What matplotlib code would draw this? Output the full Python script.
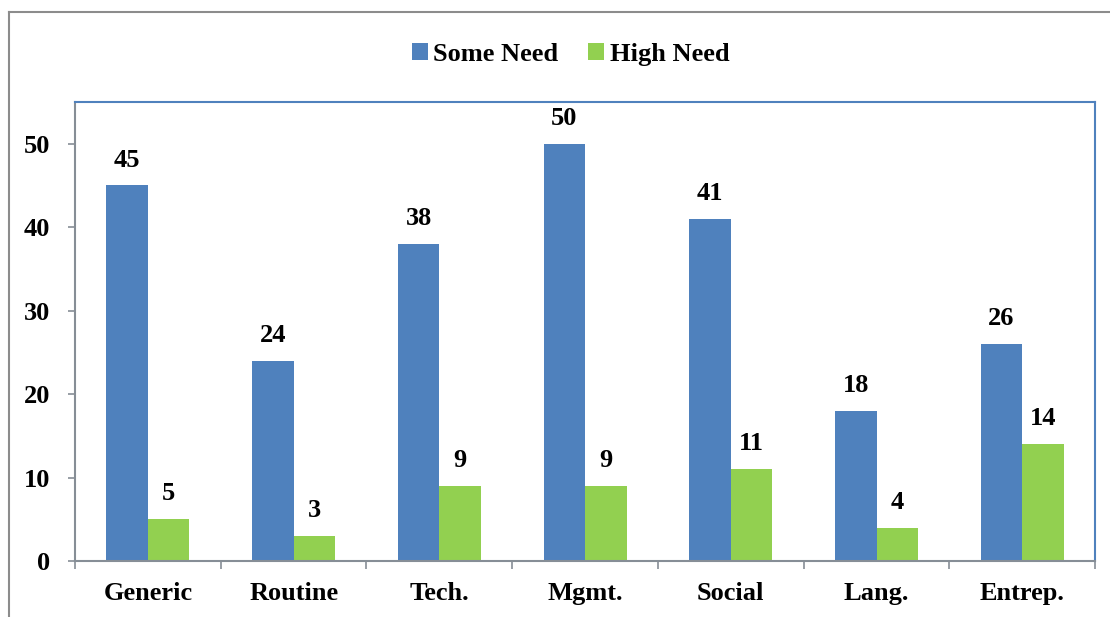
import numpy as np
import matplotlib.pyplot as plt
from matplotlib.lines import Line2D
from matplotlib.ticker import FixedLocator

categories = ["Generic", "Routine", "Tech.", "Mgmt.", "Social", "Lang.", "Entrep."]
some_need = [45, 24, 38, 50, 41, 18, 26]
high_need = [5, 3, 9, 9, 11, 4, 14]

blue = "#4F81BD"
green = "#92D050"
grey = "#868E96"

plt.rcParams["font.family"] = ["Liberation Serif", "DejaVu Serif"]
plt.rcParams["font.weight"] = "bold"

fig = plt.figure(figsize=(11.1, 6.17), dpi=100)
ax = fig.add_axes([0.0676, 0.0908, 0.919, 0.7439])

x = np.arange(len(categories))
w = 0.285
b1 = ax.bar(x - w / 2, some_need, w, color=blue, label="Some Need")
b2 = ax.bar(x + w / 2, high_need, w, color=green, label="High Need")

for bars in (b1, b2):
    for rect in bars:
        ax.annotate(f"{int(rect.get_height())}",
                    (rect.get_x() + rect.get_width() / 2, rect.get_height()),
                    xytext=(0, 10), textcoords="offset points",
                    ha="center", va="bottom", fontsize=19, fontweight="bold")

ax.set_xlim(-0.5, len(categories) - 0.5)
ax.set_ylim(0, 55)
ax.set_yticks([0, 10, 20, 30, 40, 50])
ax.set_xticks(x)
ax.set_xticklabels(categories)
ax.xaxis.set_minor_locator(FixedLocator(np.arange(-0.5, len(categories), 1)))
ax.tick_params(axis="x", which="major", length=0, pad=15, labelsize=19)
ax.tick_params(axis="x", which="minor", length=6, color=grey, width=1.2)
ax.tick_params(axis="y", length=5, color=grey, width=1.2, labelsize=19, pad=13)

ax.spines["left"].set_color(grey)
ax.spines["bottom"].set_color(grey)
ax.spines["left"].set_linewidth(1.5)
ax.spines["bottom"].set_linewidth(1.5)
ax.spines["top"].set_color(blue)
ax.spines["right"].set_color(blue)
ax.spines["top"].set_linewidth(1.5)
ax.spines["right"].set_linewidth(1.5)

ax.legend(loc="center", bbox_to_anchor=(0.514, 0.912), bbox_transform=fig.transFigure,
          ncol=2, frameon=False, fontsize=19, handlelength=0.6, handleheight=0.6,
          handletextpad=0.2, columnspacing=1.15)

# outer chart border (top and left only visible)
fig.add_artist(Line2D([0.0085, 0.0085], [0.0, 0.981], color="#8c8c8c", lw=1.5))
fig.add_artist(Line2D([0.0085, 1.0], [0.981, 0.981], color="#8c8c8c", lw=1.5))

fig.savefig("out.png", dpi=100)
